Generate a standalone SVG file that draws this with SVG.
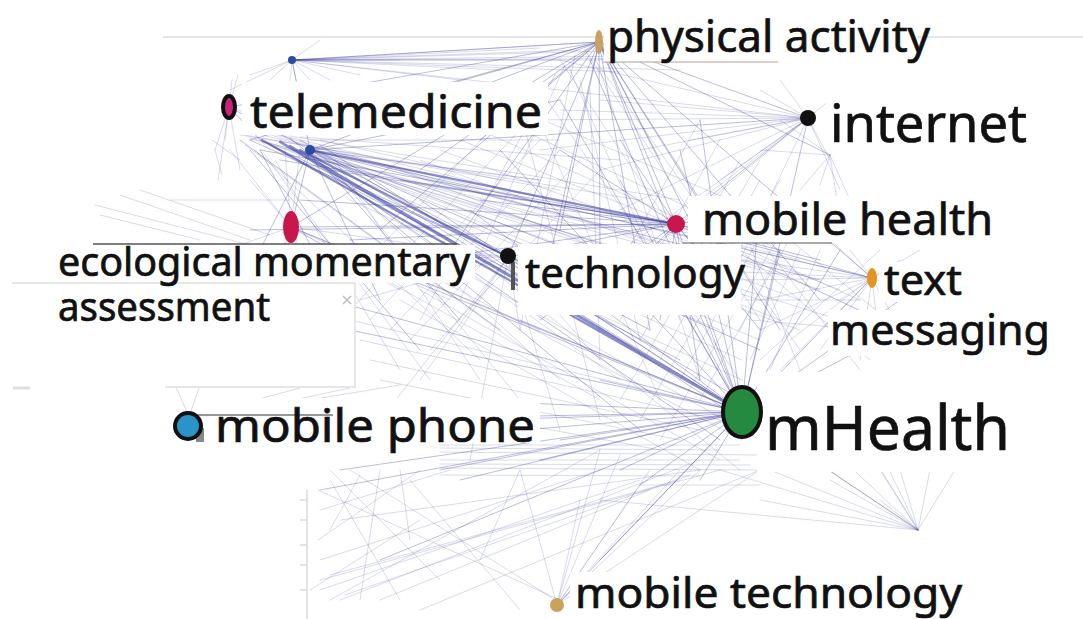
<svg xmlns="http://www.w3.org/2000/svg" width="1083" height="619" viewBox="0 0 1083 619">
<style>
.e{fill:none;stroke:#3b3f9e;stroke-linecap:round}
.e1{stroke-width:2.2;stroke-opacity:.6}
.e2{stroke-width:.9;stroke-opacity:.38}
.e3{stroke-width:.7;stroke-opacity:.28}
.bg{fill:#fff}
.lb{font-family:"Noto Sans","Open Sans","Liberation Sans",sans-serif;fill:#111;stroke:#111;stroke-width:.7}
.gl{stroke:#dcdcdc;stroke-width:1.5;fill:none}
</style>
<rect width="1083" height="619" fill="#fff"/>
<g id="guides">
<path class="gl" d="M163 37 L1083 37"/>
<path class="gl" d="M307 490 L307 619 M300 500 L307 500 M300 520 L307 520 M300 545 L307 545 M300 565 L307 565 M300 590 L307 590"/>
</g>
<g id="connectors">
<path class="e e1" d="M262 140 L742 412 M310 150 L676 224 M300 150 L508 257 M280 142 L742 412 M290 146 L742 412"/>
<path class="e e2" d="M310 150 L742 412 M310 150 L599 42 M310 150 L872 278 M310 150 L808 118 M310 150 L291 227 M310 150 L229 107 M310 150 L292 60 M310 150 L560 100 M310 150 L700 300 M310 150 L620 250 M310 150 L820 280 M310 150 L540 180 M310 150 L460 320 M310 150 L380 300 M310 150 L260 250 M310 150 L650 330 M310 150 L760 350 M260 140 L600 300 M270 145 L680 360 M250 140 L560 280 M240 140 L500 330 M280 140 L720 440 M290 138 L640 430 M250 150 L420 350 M260 150 L350 320 M300 140 L742 400 M320 145 L742 420
M742 412 L291 227 M742 412 L508 257 M742 412 L599 42 M742 412 L676 224 M742 412 L872 278 M742 412 L808 118 M742 412 L557 605 M742 412 L460 480 M742 412 L640 485 M742 412 L918 530 M742 412 L330 300 M742 412 L420 200 M742 412 L560 100 M742 412 L350 330 M742 412 L700 120 M742 412 L600 380 M742 412 L450 400 M742 412 L380 560 M742 412 L320 490 M742 412 L600 560 M742 412 L820 470 M742 412 L860 350 M742 412 L900 300 M742 412 L840 250 M742 412 L780 250 M742 412 L680 150 M742 412 L590 60 M742 412 L520 320 M742 412 L540 460 M742 412 L440 470 M742 412 L400 440 M742 412 L360 260 M742 412 L470 210 M742 412 L500 150 M742 412 L620 180 M742 412 L760 200 M742 412 L660 270 M742 412 L330 420 M742 412 L340 470 M742 412 L560 440 M742 412 L480 420 M742 412 L620 470 M742 412 L700 480
M599 42 L292 60 M599 42 L229 107 M599 42 L676 224 M599 42 L808 118 M599 42 L508 257 M599 42 L420 170 M599 42 L380 230 M599 42 L720 280 M599 42 L820 300 M599 42 L780 330 M599 42 L650 330 M599 42 L560 230 M599 42 L480 140 M599 42 L350 110 M599 42 L700 200 M599 42 L872 278 M599 42 L291 227 M599 42 L540 300 M599 42 L600 250 M599 42 L660 160 M599 42 L250 140 M599 42 L450 250 M599 42 L830 155
M676 224 L291 227 M676 224 L508 257 M676 224 L872 278 M676 224 L808 118 M676 224 L260 150 M676 224 L400 180 M676 224 L560 150 M676 224 L760 330 M676 224 L840 200 M676 224 L600 300 M676 224 L540 320 M676 224 L820 260 M676 224 L350 240 M676 224 L420 260 M676 224 L300 200 M676 224 L480 200 M676 224 L880 320 M676 224 L620 140 M676 224 L250 230 M676 224 L740 300 M676 224 L700 380 M676 224 L660 320 M676 224 L280 160 M676 224 L330 170"/>
<path class="e e3" d="M292 60 L599 42 M292 60 L640 50 M292 60 L720 55 M292 60 L780 58 M292 60 L230 90 M292 60 L250 75 M292 60 L320 40 M292 60 L330 80 M292 60 L290 80 M292 60 L296 80 M292 60 L560 60 M292 60 L500 70 M292 60 L460 80 M292 60 L400 60 M292 60 L580 50 M292 60 L680 70 M292 60 L750 60 M292 60 L808 118 M292 60 L540 48 M292 60 L620 72 M292 60 L270 80 M292 60 L310 80 M292 60 L360 75
M808 118 L640 150 M808 118 L700 200 M808 118 L580 280 M808 118 L740 260 M808 118 L830 160 M808 118 L780 80 M808 118 L840 190 M808 118 L600 100 M808 118 L560 60 M808 118 L650 250 M808 118 L520 120 M808 118 L760 90 M808 118 L830 100 M808 118 L690 140 M808 118 L620 210 M808 118 L720 180 M808 118 L600 170 M808 118 L540 150 M808 118 L560 110
M872 278 L750 250 M872 278 L760 330 M872 278 L900 330 M872 278 L830 240 M872 278 L850 250 M872 278 L930 300 M872 278 L760 300 M872 278 L700 270 M872 278 L820 350 M872 278 L880 350 M872 278 L790 340 M872 278 L860 360 M872 278 L740 280 M872 278 L900 260 M872 278 L840 300 M872 278 L745 260 M872 278 L780 370 M872 278 L920 250
M508 257 L291 227 M508 257 L360 300 M508 257 L420 380 M508 257 L460 330 M508 257 L520 330 M508 257 L400 250 M508 257 L350 260 M508 257 L600 360 M508 257 L560 430 M508 257 L380 420 M508 257 L470 460
M291 227 L250 180 M291 227 L230 150 M291 227 L260 330 M291 227 L300 330 M291 227 L280 300 M291 227 L240 245 M291 227 L330 330 M291 227 L400 290 M291 227 L450 300 M291 227 L270 280 M291 227 L310 300 M291 227 L285 150 M291 227 L300 150 M291 227 L540 330 M291 227 L600 400
M229 107 L215 150 M229 107 L218 180 M229 107 L225 140 M229 107 L260 140 M229 107 L240 170 M229 107 L232 80 M229 107 L238 75 M229 107 L300 130 M229 107 L270 150 M215 150 L222 175 M212 140 L240 160
M95 205 L250 245 M120 195 L250 240 M100 215 L200 240 M170 200 L290 200 M140 190 L270 235
M830 155 L780 120 M830 155 L850 200 M830 155 L800 190 M830 155 L760 150 M830 155 L840 220 M830 155 L820 185
M918 530 L770 470 M918 530 L800 420 M918 530 L850 420 M918 530 L880 470 M918 530 L880 500 M918 530 L940 420 M918 530 L900 470 M918 530 L760 500 M918 530 L720 470 M918 530 L830 480 M918 530 L870 430 M918 530 L955 470 M918 530 L742 412 M918 530 L600 500
M318 490 L560 600 M320 560 L600 470 M340 520 L700 470 M330 600 L600 450 M410 480 L520 610 M350 470 L560 603 M320 510 L450 470 M318 540 L420 470 M330 480 L400 600 M380 470 L360 600 M320 590 L640 480 M340 600 L700 460 M320 580 L720 470 M360 475 L330 530 M420 520 L310 590 M380 600 L650 490 M420 610 L760 470 M440 580 L330 470 M520 470 L480 560 M330 575 L680 480 M345 595 L690 475 M400 470 L410 540
M557 605 L640 485 M557 605 L700 470 M557 605 L600 450 M557 605 L520 470 M557 605 L760 470 M557 605 L580 500 M557 605 L680 470 M557 605 L650 470 M557 605 L620 455
M440 445 L740 445 M440 452 L760 455 M440 460 L740 460 M440 468 L760 470 M440 475 L700 476 M440 448 L720 450 M440 464 L750 465 M640 485 L760 485
M188 414 L175 385 M190 414 L200 385 M200 420 L350 388 M200 418 L400 385 M200 415 L300 388
M740 250 L870 360 M760 240 L860 370 M780 250 L740 330 M800 250 L750 360 M820 250 L770 370 M745 300 L860 300 M750 320 L870 330 M790 240 L900 330 M760 360 L880 250 M750 245 L800 370"/>
<path class="e e3" d="M245 135 L560 190 M250 138 L600 230 M255 140 L660 260 M265 142 L700 260 M275 145 L720 330 M285 148 L760 300 M295 150 L800 330 M300 152 L840 320 M305 155 L620 380 M315 155 L560 380 M325 158 L520 400 M335 160 L480 380 M245 145 L540 360 M255 150 L480 360 M265 155 L430 380 M275 160 L400 370 M240 135 L640 200 M250 132 L700 240 M260 132 L720 260 M270 133 L760 270 M280 135 L800 260 M290 136 L680 200 M300 137 L620 160 M310 140 L560 140 M320 140 L500 180
M560 60 L720 300 M570 70 L680 320 M580 80 L640 340 M590 90 L600 360 M575 55 L520 330 M565 65 L460 300 M555 75 L420 320 M585 50 L760 320 M595 60 L800 350 M600 70 L700 380 M540 90 L740 380 M530 100 L660 400 M520 110 L600 420
M350 200 L742 380 M360 190 L742 360 M380 180 L760 340 M400 170 L780 320 M420 160 L800 300 M440 150 L820 290 M460 140 L840 290 M480 130 L860 300 M500 120 L780 250 M520 110 L800 230
M350 320 L742 412 M360 340 L720 420 M370 360 L700 430 M380 380 L680 440 M390 400 L660 450 M400 300 L700 470 M420 290 L720 460 M440 280 L742 440 M460 270 L760 440 M480 260 L740 470
M600 300 L700 120 M620 320 L720 140 M640 340 L740 160 M660 360 L760 180 M680 380 L780 200 M700 400 L800 220 M620 400 L760 160 M640 420 L780 180 M660 440 L800 200
M330 300 L500 120 M350 310 L520 130 M370 320 L540 140 M390 330 L560 150 M410 340 L580 160 M430 350 L600 170"/>
</g>
<g id="labelbg">
<rect class="bg" x="604" y="12" width="314" height="50"/>
<rect class="bg" x="242" y="82" width="306" height="53"/>
<rect class="bg" x="826" y="96" width="205" height="54"/>
<rect class="bg" x="688" y="196" width="312" height="47"/>
<rect class="bg" x="518" y="244" width="223" height="71"/>
<rect class="bg" x="879" y="262" width="90" height="40"/>
<rect class="bg" x="828" y="310" width="226" height="46"/>
<rect class="bg" x="55" y="245" width="420" height="38"/>
<rect class="bg" x="0" y="283" width="355" height="104"/>
<rect class="bg" x="202" y="398" width="338" height="45"/>
<rect class="bg" x="757" y="372" width="326" height="100"/>
<rect class="bg" x="570" y="572" width="400" height="47"/>
<path d="M12 283 L355 283 L355 387 L165 387" fill="none" stroke="#e6e6e6" stroke-width="2"/>
<path d="M13 388 L30 388" stroke="#dedede" stroke-width="3"/>
<path d="M343 296 L351 304 M351 296 L343 304" stroke="#bdbdbd" stroke-width="1.5"/>
<path d="M603 62 L778 62" stroke="#b0a493" stroke-width="1.2"/>
<path d="M683 243 L832 243" stroke="#555" stroke-width="1.2"/>
<path d="M93 244 L457 244" stroke="#555" stroke-width="1.5"/>
<path d="M197 415 L333 415" stroke="#333" stroke-width="1.2"/>
</g>
<g id="n-hub1"><circle cx="292" cy="60" r="4" fill="#2b4aa0"/></g>
<g id="n-hub2"><circle cx="310" cy="150" r="5" fill="#2b4aa0"/></g>
<g id="n-physical-activity">
<ellipse cx="599" cy="42" rx="4" ry="12" fill="#c9a25e"/>
<text class="lb" x="607" y="52" font-size="44" textLength="323" lengthAdjust="spacingAndGlyphs">physical activity</text>
</g>
<g id="n-telemedicine">
<ellipse cx="229" cy="107" rx="6" ry="11" fill="#c8247a" stroke="#111" stroke-width="4"/>
<text class="lb" x="250" y="128" font-size="46" textLength="292" lengthAdjust="spacingAndGlyphs">telemedicine</text>
</g>
<g id="n-internet">
<circle cx="808" cy="118" r="8" fill="#111"/>
<text class="lb" x="830" y="142" font-size="52" textLength="197" lengthAdjust="spacingAndGlyphs">internet</text>
</g>
<g id="n-mobile-health">
<circle cx="676" cy="224" r="9" fill="#c8174c"/>
<text class="lb" x="702" y="235" font-size="44" textLength="291" lengthAdjust="spacingAndGlyphs">mobile health</text>
</g>
<g id="n-technology">
<rect x="511" y="262" width="4" height="28" fill="#555"/>
<circle cx="508" cy="256" r="8" fill="#111"/>
<text class="lb" x="525" y="288" font-size="42" textLength="220" lengthAdjust="spacingAndGlyphs">technology</text>
</g>
<g id="n-text-messaging">
<ellipse cx="872" cy="278" rx="5" ry="10" fill="#e3951f"/>
<text class="lb" x="884" y="295" font-size="42" textLength="78" lengthAdjust="spacingAndGlyphs">text</text>
<text class="lb" x="830" y="345" font-size="42" textLength="220" lengthAdjust="spacingAndGlyphs">messaging</text>
</g>
<g id="n-ema">
<ellipse cx="291" cy="227" rx="8" ry="16" fill="#c8174c"/>
<text class="lb" x="58" y="276" font-size="40" textLength="412" lengthAdjust="spacingAndGlyphs">ecological momentary</text>
<text class="lb" x="58" y="321" font-size="40" textLength="212" lengthAdjust="spacingAndGlyphs">assessment</text>
</g>
<g id="n-mobile-phone">
<rect x="196" y="428" width="8" height="14" fill="#888"/>
<circle cx="188" cy="426" r="13" fill="#2b93c7" stroke="#111" stroke-width="4"/>
<text class="lb" x="215" y="442" font-size="46" textLength="320" lengthAdjust="spacingAndGlyphs">mobile phone</text>
</g>
<g id="n-mhealth">
<ellipse cx="742" cy="412" rx="19" ry="25" fill="#25893f" stroke="#111" stroke-width="4"/>
<text class="lb" x="765" y="450" font-size="62" textLength="245" lengthAdjust="spacingAndGlyphs">mHealth</text>
</g>
<g id="n-mobile-technology">
<circle cx="557" cy="605" r="7" fill="#c9a25e"/>
<text class="lb" x="575" y="608" font-size="42" textLength="387" lengthAdjust="spacingAndGlyphs">mobile technology</text>
</g>
</svg>
